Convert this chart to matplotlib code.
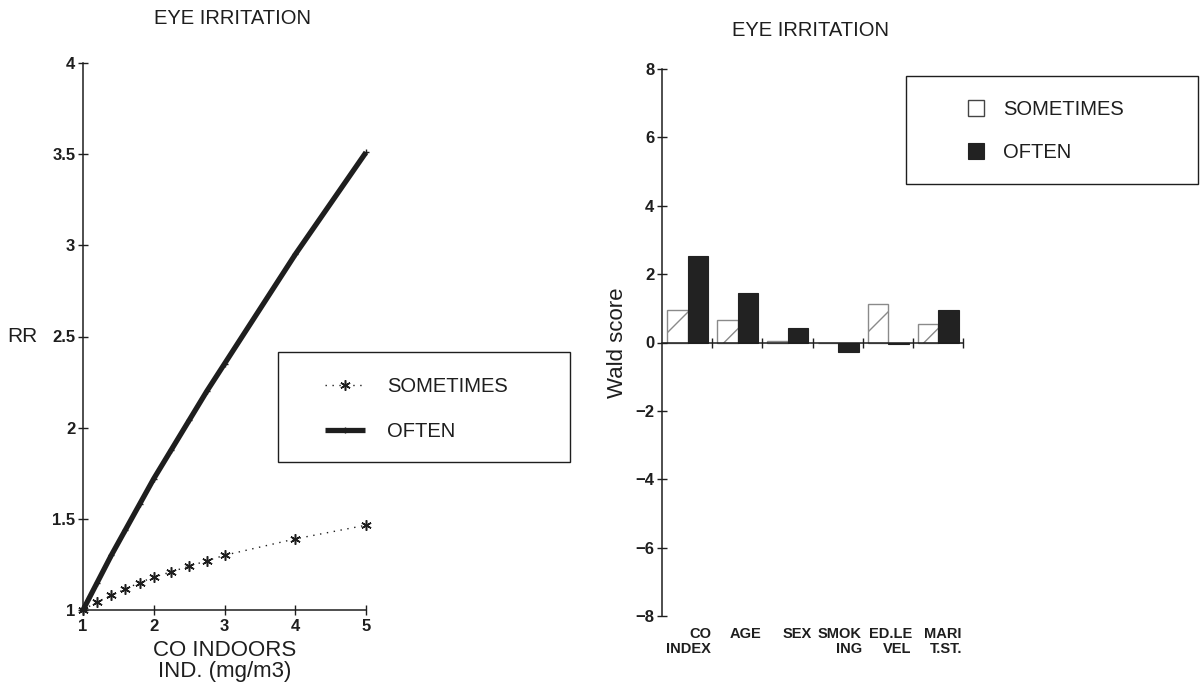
import numpy as np
import matplotlib
matplotlib.use("Agg")
import matplotlib.pyplot as plt
from matplotlib.patches import Rectangle
from matplotlib.transforms import blended_transform_factory

plt.rcParams['font.family'] = ['Liberation Sans', 'DejaVu Sans']
plt.rcParams['hatch.color'] = "#8a8a8a"
plt.rcParams['hatch.linewidth'] = 1.0

# ---------------- data ----------------
co_levels = [1.0, 1.2, 1.4, 1.6, 1.8, 2.0, 2.25, 2.5, 2.75, 3.0, 4.0, 5.0]
rr_sometimes = [1.0, 1.045, 1.08, 1.115, 1.15, 1.18, 1.21, 1.24, 1.27, 1.30, 1.39, 1.465]
rr_often = [1.0, 1.15, 1.30, 1.44, 1.58, 1.72, 1.88, 2.04, 2.20, 2.35, 2.95, 3.51]
left_xticks = [1, 2, 3, 4, 5]
left_yticks = [1, 1.5, 2, 2.5, 3, 3.5, 4]

categories = ["CO\nINDEX", "AGE", "SEX", "SMOK\nING", "ED.LE\nVEL", "MARI\nT.ST."]
wald_sometimes = [0.96, 0.67, 0.05, 0.0, 1.14, 0.55]
wald_often = [2.54, 1.46, 0.41, -0.29, -0.05, 0.96]
right_yticks = [-8, -6, -4, -2, 0, 2, 4, 6, 8]

series_names = ["SOMETIMES", "OFTEN"]

W, H = 1201, 696
fig = plt.figure(figsize=(W / 100, H / 100), dpi=100)
ink = "#1e1e1e"

# ---------------- left panel ----------------
axL = fig.add_axes([83 / W, 1 - 610 / H, 283 / W, 547 / H])
axL.set_xlim(1, 5)
axL.set_ylim(1, 4)
l1, = axL.plot(co_levels, rr_sometimes, linestyle=(0, (1, 4)), color=ink, linewidth=1.0,
               marker=(6, 2, 0), markersize=7.5, markeredgewidth=1.1,
               markeredgecolor=ink, clip_on=False, label=series_names[0])
l2, = axL.plot(co_levels, rr_often, linestyle="-", color=ink, linewidth=3.8,
               marker="+", markersize=5, markeredgewidth=1.0, clip_on=False,
               solid_capstyle="butt", label=series_names[1])
for s in ["top", "right"]:
    axL.spines[s].set_visible(False)
for s in ["left", "bottom"]:
    axL.spines[s].set_color(ink)
    axL.spines[s].set_linewidth(1.1)
axL.set_xticks(left_xticks)
axL.set_yticks(left_yticks)
axL.set_xticklabels([str(t) for t in left_xticks], fontsize=12, fontweight="bold")
axL.set_yticklabels(["1", "1.5", "2", "2.5", "3", "3.5", "4"], fontsize=12,
                    fontweight="bold")
axL.tick_params(axis="both", direction="inout", length=7, width=1.0, color=ink,
                labelcolor=ink)
axL.tick_params(axis="x", pad=3)
axL.tick_params(axis="y", pad=2)
axL.set_xlabel("CO INDOORS\nIND. (mg/m3)", fontsize=16, color=ink, labelpad=4,
               linespacing=1.05)
axL.text(-0.215, 2.5, "RR", transform=blended_transform_factory(axL.transAxes, axL.transData),
         fontsize=15, color=ink, ha="center", va="center")
fig.text(233 / W, 1 - 18 / H, "EYE IRRITATION", fontsize=14.5, color=ink,
         ha="center", va="center")

# left legend (frame drawn as a rectangle)
fig.patches.append(Rectangle((278 / W, 1 - 462 / H), 292 / W, 110 / H,
                             transform=fig.transFigure, fill=False,
                             edgecolor=ink, linewidth=1.0))
legL = fig.legend(handles=[l1, l2], loc="center left",
                  bbox_to_anchor=(325 / W, 1 - 409 / H), bbox_transform=fig.transFigure,
                  frameon=False, fontsize=14.5, handlelength=2.0, handletextpad=1.1,
                  labelspacing=1.3, borderpad=0, borderaxespad=0, markerscale=1.0,
                  numpoints=1)
for t in legL.get_texts():
    t.set_color(ink)

# ---------------- right panel ----------------
axR = fig.add_axes([662 / W, 1 - 616 / H, 301 / W, 547 / H])
axR.set_xlim(0, 6)
axR.set_ylim(-8, 8)
xs = np.arange(len(categories))
b1 = axR.bar(xs + 0.305, wald_sometimes, width=0.41, facecolor="white",
             edgecolor="#8a8a8a", linewidth=1.0, hatch="/", label=series_names[0])
b2 = axR.bar(xs + 0.715, wald_often, width=0.41, facecolor="#222222",
             edgecolor="#222222", linewidth=0.8, label=series_names[1])
for s in ["top", "right"]:
    axR.spines[s].set_visible(False)
axR.spines["bottom"].set_position(("data", 0))
axR.spines["bottom"].set_color(ink)
axR.spines["bottom"].set_linewidth(1.1)
axR.spines["left"].set_color(ink)
axR.spines["left"].set_linewidth(1.1)
axR.set_yticks(right_yticks)
axR.set_yticklabels([("\u2212" + str(-t)) if t < 0 else str(t) for t in right_yticks],
                    fontsize=12, fontweight="bold")
axR.set_xticks(np.arange(1, len(categories) + 1))
axR.set_xticklabels([""] * len(categories))
axR.tick_params(axis="both", direction="inout", length=7, width=1.0, color=ink,
                labelcolor=ink)
axR.tick_params(axis="y", pad=2)
axR.set_ylabel("Wald score", fontsize=16, color=ink, labelpad=5)
trR = blended_transform_factory(axR.transData, axR.transAxes)
for i, c in enumerate(categories):
    axR.text(i + 0.98, -0.02, c, transform=trR, ha="right", va="top",
             multialignment="right", fontsize=10.5, fontweight="bold", color=ink,
             linespacing=1.1)
fig.text(810 / W, 1 - 31 / H, "EYE IRRITATION", fontsize=14.5, color=ink,
         ha="center", va="center")

# right legend
fig.patches.append(Rectangle((906 / W, 1 - 184 / H), 292 / W, 108 / H,
                             transform=fig.transFigure, fill=False,
                             edgecolor=ink, linewidth=1.0))
legR = fig.legend(handles=[b1, b2], loc="center left",
                  bbox_to_anchor=(968 / W, 1 - 131 / H), bbox_transform=fig.transFigure,
                  frameon=False, fontsize=14.5, handlelength=0.8, handleheight=0.85,
                  handletextpad=0.95, labelspacing=1.15, borderpad=0, borderaxespad=0)
for t in legR.get_texts():
    t.set_color(ink)
hs = legR.legend_handles
hs[0].set_hatch(None)
hs[0].set_edgecolor("#444444")

fig.savefig("out.png", dpi=100, facecolor="white")
